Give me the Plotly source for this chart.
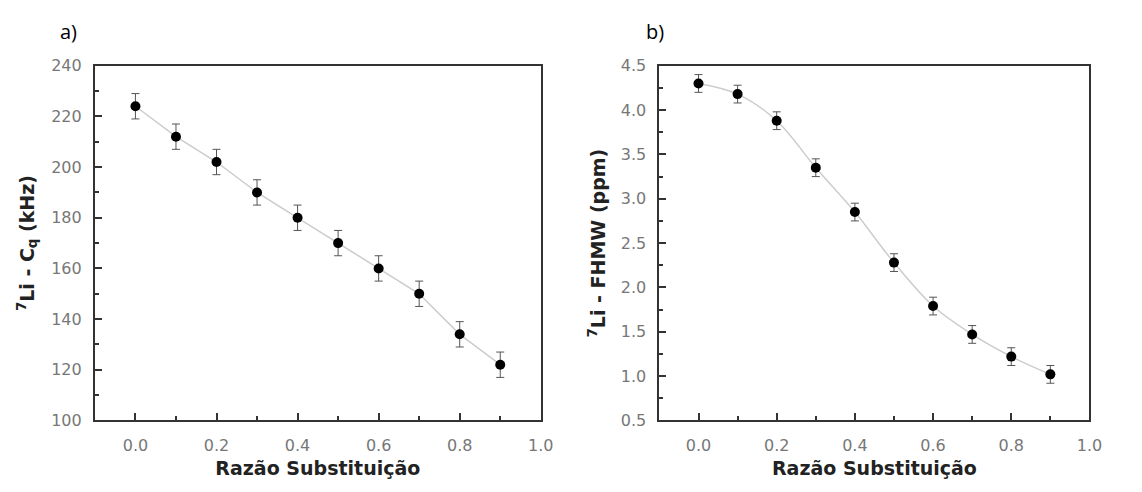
import plotly.graph_objects as go

ratio = [0.0, 0.1, 0.2, 0.3, 0.4, 0.5, 0.6, 0.7, 0.8, 0.9]
cq_khz = [224, 212, 202, 190, 180, 170, 160, 150, 134, 122]
cq_err = [5, 5, 5, 5, 5, 5, 5, 5, 5, 5]
fwhm_ppm = [4.30, 4.18, 3.88, 3.35, 2.85, 2.28, 1.79, 1.47, 1.22, 1.02]
fwhm_err = [0.1, 0.1, 0.1, 0.1, 0.1, 0.1, 0.1, 0.1, 0.1, 0.1]

W, H = 1142, 492
fig = go.Figure()

fig.add_trace(go.Scatter(x=ratio, y=cq_khz, mode="lines", line=dict(color="#cccccc", width=1.5),
                         xaxis="x", yaxis="y", hoverinfo="skip"))
fig.add_trace(go.Scatter(x=ratio, y=cq_khz, mode="markers",
                         marker=dict(color="black", size=10),
                         error_y=dict(type="data", array=cq_err, color="#555", thickness=1, width=4),
                         xaxis="x", yaxis="y"))
fig.add_trace(go.Scatter(x=ratio, y=fwhm_ppm, mode="lines", line=dict(color="#cccccc", width=1.5, shape="spline"),
                         xaxis="x2", yaxis="y2", hoverinfo="skip"))
fig.add_trace(go.Scatter(x=ratio, y=fwhm_ppm, mode="markers",
                         marker=dict(color="black", size=10),
                         error_y=dict(type="data", array=fwhm_err, color="#555", thickness=1, width=4),
                         xaxis="x2", yaxis="y2"))

ydom = [(492 - 428) / H, (492 - 59) / H]
tickfont = dict(family="DejaVu Sans", size=16, color="#777")
titlefont = dict(family="DejaVu Sans", size=19, color="#222")
minor_style = dict(ticks="inside", ticklen=4, tickwidth=2, tickcolor="#333")
common = dict(showline=True, linecolor="#333", linewidth=2, mirror=True, ticks="inside",
              ticklen=7, tickwidth=2, tickcolor="#333", showgrid=False, zeroline=False,
              tickfont=tickfont)
xticks = [0, 0.2, 0.4, 0.6, 0.8, 1.0]
xtext = ["0.0", "0.2", "0.4", "0.6", "0.8", "1.0"]
xminor = [0.1, 0.3, 0.5, 0.7, 0.9]

fig.update_layout(
    width=W, height=H, margin=dict(l=0, r=0, t=0, b=0),
    paper_bgcolor="white", plot_bgcolor="white", showlegend=False,
    xaxis=dict(domain=[96 / W, 547 / W], range=[-0.1, 1.0], tickvals=xticks, ticktext=xtext,
               minor=dict(tickvals=xminor, **minor_style), ticklabelstandoff=9,
               title=dict(text="<b>Razão Substituição</b>", font=titlefont, standoff=8),
               anchor="y", **common),
    yaxis=dict(domain=ydom, range=[100, 240], tickvals=list(range(100, 241, 20)),
               minor=dict(tickvals=list(range(110, 240, 20)), **minor_style), ticklabelstandoff=8,
               title=dict(text="<b><sup>7</sup>Li - C<sub>q</sub> (kHz)</b>", font=titlefont, standoff=12),
               anchor="x", **common),
    xaxis2=dict(domain=[667 / W, 1102 / W], range=[-0.1, 1.0], tickvals=xticks, ticktext=xtext,
                minor=dict(tickvals=xminor, **minor_style), ticklabelstandoff=9,
                title=dict(text="<b>Razão Substituição</b>", font=titlefont, standoff=8),
                anchor="y2", **common),
    yaxis2=dict(domain=ydom, range=[0.5, 4.5], tickvals=[0.5, 1.0, 1.5, 2.0, 2.5, 3.0, 3.5, 4.0, 4.5],
                ticktext=["0.5", "1.0", "1.5", "2.0", "2.5", "3.0", "3.5", "4.0", "4.5"],
                minor=dict(tickvals=[0.75, 1.25, 1.75, 2.25, 2.75, 3.25, 3.75, 4.25], **minor_style),
                ticklabelstandoff=8,
                title=dict(text="<b><sup>7</sup>Li - FHMW (ppm)</b>", font=titlefont, standoff=10),
                anchor="x2", **common),
    annotations=[
        dict(text="a)", x=69 / W, y=1 - 23 / H, xref="paper", yref="paper", showarrow=False,
             xanchor="center", yanchor="middle", font=dict(family="Open Sans", size=20, color="black")),
        dict(text="b)", x=663 / W, y=1 - 23 / H, xref="paper", yref="paper", showarrow=False,
             xanchor="center", yanchor="middle", font=dict(family="Open Sans", size=20, color="black")),
    ],
)

fig.write_html("out.html")
